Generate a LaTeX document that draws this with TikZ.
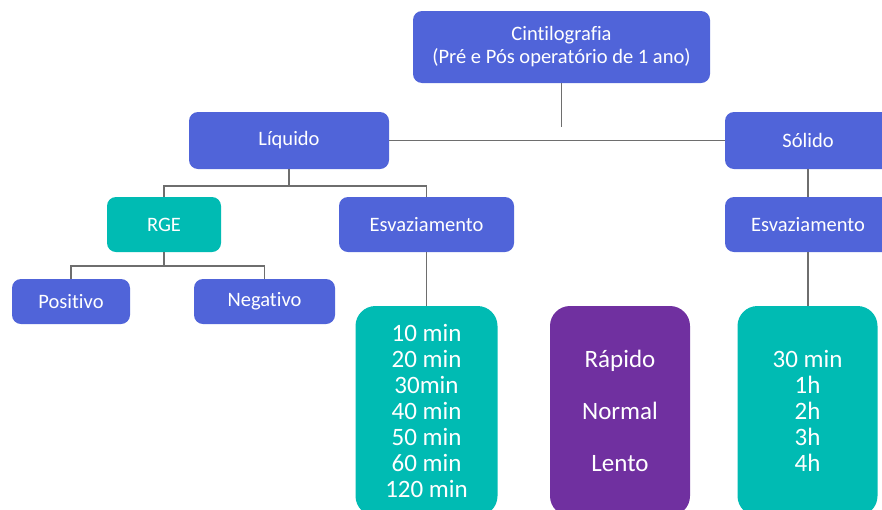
\documentclass[tikz,border=0pt]{standalone}
\usepackage{fontspec}
\setmainfont{Carlito}[RawFeature={-liga}]
\usetikzlibrary{positioning}
\definecolor{mapblue}{HTML}{5064D9}
\definecolor{mapteal}{HTML}{00BBB3}
\definecolor{mappurple}{HTML}{7030A0}
\definecolor{linkgray}{HTML}{6E6E6E}
\tikzset{
  topic/.style={
    rectangle, rounded corners=9pt,
    fill=mapblue, text=white,
    inner sep=0pt, align=center,
    font=\fontsize{20.5}{23}\selectfont,
    minimum height=#1
  },
  topic/.default=55pt,
  gist/.style={topic, fill=mapteal},
  listbox/.style={
    rectangle, rounded corners=20pt,
    fill=#1, text=white,
    inner sep=0pt, align=center,
    font=\fontsize{25}{26}\selectfont,
    minimum width=142pt, minimum height=210pt
  },
  link/.style={draw=linkgray, line width=1.5pt}
}

\begin{document}
\begin{tikzpicture}[x=1pt, y=-1pt]

  \useasboundingbox (0,0) rectangle (882,509);
  \clip (0,0) rectangle (882,509);

  % Top of the tree
  \node[topic=72pt, minimum width=297pt] (cinti) at (561.5,47)
    {Cintilografia\\(Pré e Pós operatório de 1 ano)};
  \coordinate (junction) at (561,127);

  % Liquid and solid
  \node[topic=57pt, minimum width=200pt] (liquido) at (289,140.5) {Líquido};
  \node[topic=57pt, minimum width=166pt] (solido)  at (808,140.5) {Sólido};

  \node[gist, minimum width=114pt]  (rge)    at (164,224.5)   {RGE};
  \node[topic, minimum width=175pt] (esvliq) at (426.5,224.5) {Esvaziamento};
  \node[topic, minimum width=166pt] (esvsol) at (808,224.5)   {Esvaziamento};

  \node[topic=45pt, minimum width=118pt] (positivo) at (71,301.5)    {Positivo};
  \node[topic=45pt, minimum width=141pt] (negativo) at (264.5,301.5) {Negativo};

  % Lists of times
  \node[listbox=mapteal] (templiq) at (426.5,411)
    {10 min\\20 min\\30min\\40 min\\50 min\\60 min\\120 min};
  \node[listbox=mappurple, minimum width=140pt] (ritmo) at (620,411)
    {Rápido\\[26pt]Normal\\[26pt]Lento};
  \node[listbox=mapteal, minimum width=140pt] (tempsol) at (807.5,411)
    {30 min\\1h\\2h\\3h\\4h};

  % Connectors
  \draw[link] (cinti.south) -- (cinti.south |- junction);
  \draw[link] (liquido) -- (solido);
  \draw[link] (liquido.south) -- ++(0,17) -| (rge.north);
  \draw[link] (liquido.south) -- ++(0,17) -| (esvliq.north);
  \draw[link] (rge.south) -- ++(0,14) -| (positivo.north);
  \draw[link] (rge.south) -- ++(0,14) -| (negativo.north);
  \draw[link] (esvliq.south) -- (templiq.north);
  \draw[link] (solido.south) -- (esvsol.north);
  \draw[link] (esvsol.south) -- (esvsol.south |- tempsol.north);

\end{tikzpicture}
\end{document}
